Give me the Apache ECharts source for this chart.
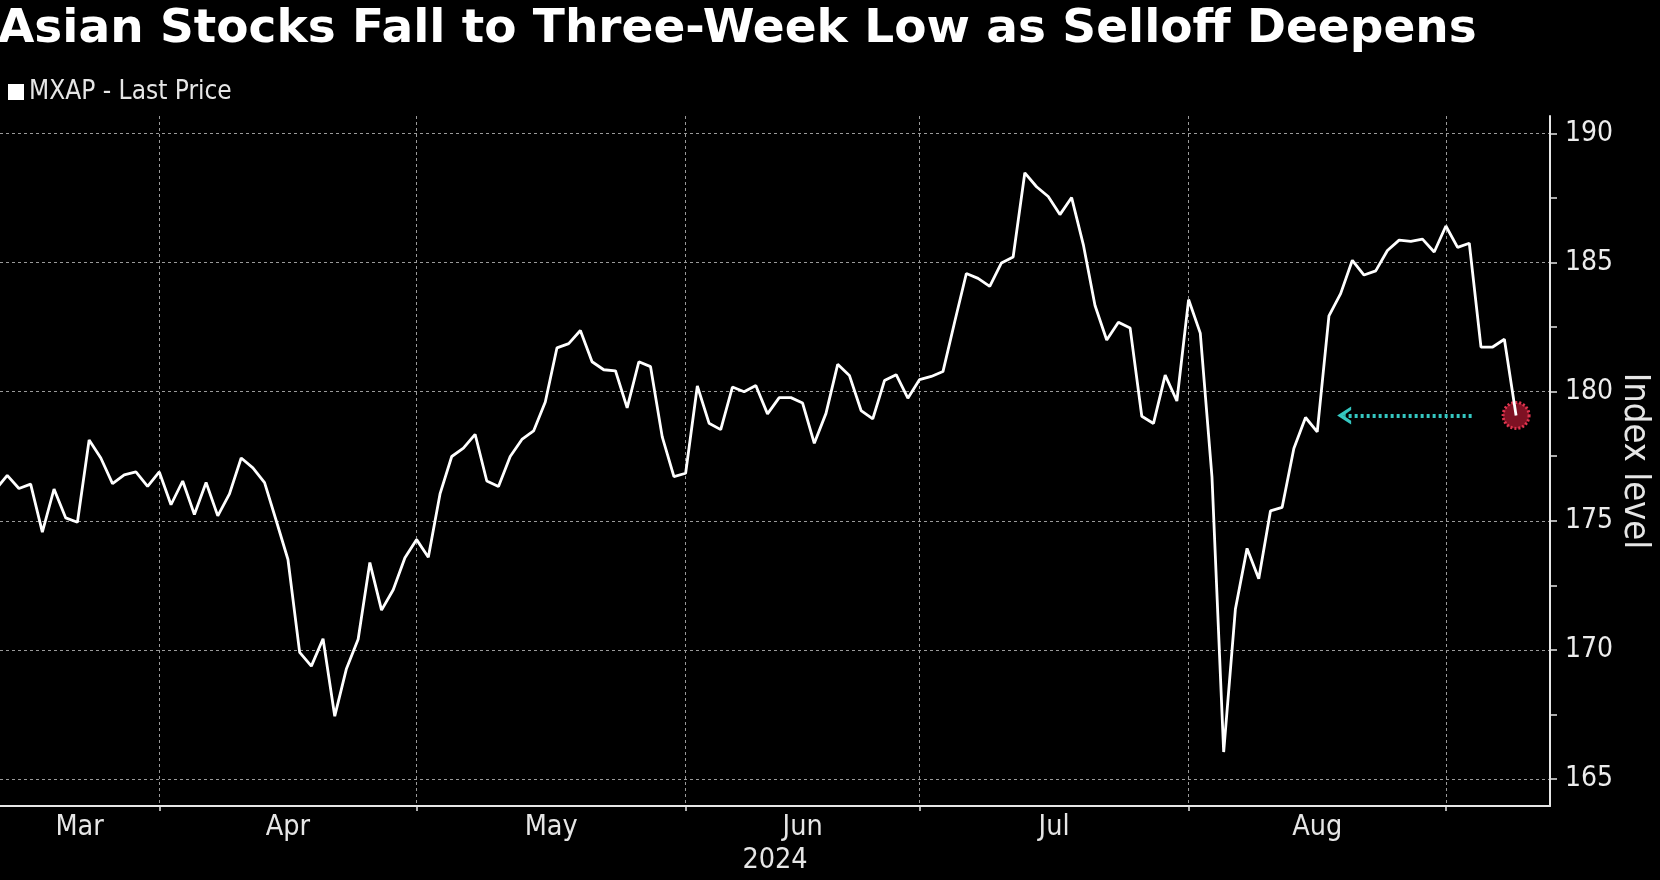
<!DOCTYPE html>
<html><head><meta charset="utf-8">
<script src="https://cdn.jsdelivr.net/npm/echarts@6/dist/echarts.min.js"></script>
<style>html,body{margin:0;padding:0;background:#000;}#c{width:1660px;height:880px;}</style>
</head><body><div id="c"></div>
<script>
const titleText = 'Asian Stocks Fall to Three-Week Low as Selloff Deepens';
const seriesName = 'MXAP - Last Price';
const yAxisName = 'Index level';
const yearLabel = '2024';
const startDate = [2024, 2, 11]; // first trading weekday shown (Mar 11, 2024)
const monthNames = ['Jan','Feb','Mar','Apr','May','Jun','Jul','Aug','Sep','Oct','Nov','Dec'];
const yTickLabels = [165, 170, 175, 180, 185, 190];
const yTicks = [165, 167.5, 170, 172.5, 175, 177.5, 180, 182.5, 185, 187.5, 190];
const values = [
  176.2, 176.76, 176.25, 176.42, 174.56, 176.23, 175.11, 174.94, 178.13, 177.43,
  176.44, 176.78, 176.89, 176.33, 176.89, 175.62, 176.54, 175.24, 176.48, 175.19,
  176.04, 177.43, 177.05, 176.48, 175.0, 173.5, 169.9, 169.37, 170.43, 167.43,
  169.27, 170.41, 173.38, 171.54, 172.33, 173.57, 174.27, 173.59, 176.04, 177.49,
  177.81, 178.35, 176.54, 176.33, 177.49, 178.15, 178.48, 179.6, 181.7, 181.86,
  182.37, 181.16, 180.85, 180.81, 179.37, 181.16, 180.97, 178.25, 176.71, 176.84,
  180.22, 178.78, 178.53, 180.18, 180.0, 180.24, 179.14, 179.77, 179.77, 179.56,
  178.0, 179.16, 181.06, 180.63, 179.27, 178.95, 180.43, 180.66, 179.75, 180.47,
  180.59, 180.78, 182.7, 184.58, 184.39, 184.08, 184.99, 185.22, 188.48, 187.94,
  187.56, 186.86, 187.52, 185.7, 183.34, 182.0, 182.69, 182.47, 179.05, 178.77,
  180.64, 179.64, 183.57, 182.27, 176.7, 166.04, 171.57, 173.93, 172.75, 175.38,
  175.52, 177.8, 179.0, 178.44, 182.94, 183.8, 185.09, 184.52, 184.68, 185.47,
  185.87, 185.82, 185.91, 185.41, 186.42, 185.59, 185.75, 181.73, 181.73, 182.03,
  179.08
];

// weekday dates for each value
const dates = [];
(function () {
  const d = new Date(startDate[0], startDate[1], startDate[2]);
  while (dates.length < values.length) {
    const wd = d.getDay();
    if (wd !== 0 && wd !== 6) dates.push(new Date(d));
    d.setDate(d.getDate() + 1);
  }
})();

const xMin = 0.38, xMax = 132.9;
const yMin = 163.95, yMax = 190.68;

// month boundaries: last weekday of each month
const boundaries = [];
for (let i = 0; i < dates.length - 1; i++) {
  if (dates[i].getMonth() !== dates[i + 1].getMonth()) boundaries.push(i);
}
const edges = [xMin].concat(boundaries);
const labelPos = [];
for (let i = 0; i < edges.length - 1; i++) labelPos.push((edges[i] + edges[i + 1]) / 2);

const lastIdx = values.length - 1;
const lastVal = values[lastIdx];
const FONT = 'DejaVu Sans Condensed, DejaVu Sans, sans-serif';
const NARROW = 'Liberation Sans Narrow, DejaVu Sans Condensed, sans-serif';

const chart = echarts.init(document.getElementById('c'), null, {renderer: 'canvas'});
chart.setOption({
  backgroundColor: '#000000',
  animation: false,
  title: {
    text: titleText, left: -2, top: 6, padding: 0,
    textStyle: {color: '#ffffff', fontSize: 47, fontWeight: 'bold', fontFamily: 'DejaVu Sans, sans-serif'}
  },
  legend: {
    left: 8, top: 79, padding: 0, itemWidth: 16, itemHeight: 16, icon: 'rect',
    textStyle: {color: '#e6e6e6', fontSize: 26, fontFamily: NARROW},
    data: [seriesName]
  },
  grid: {left: 0, right: 110, top: 116, bottom: 59, containLabel: false},
  xAxis: {
    type: 'value', min: xMin, max: xMax,
    name: yearLabel, nameLocation: 'middle', nameGap: 40, nameMoveOverlap: false,
    nameTextStyle: {color: '#e6e6e6', fontSize: 28.5, fontFamily: FONT},
    axisLine: {show: true, onZero: false, lineStyle: {color: '#e6e6e6', width: 2}},
    axisTick: {show: true, customValues: boundaries, length: 5, lineStyle: {color: '#e6e6e6', width: 1.5}},
    axisLabel: {
      customValues: labelPos, color: '#e6e6e6', fontSize: 28.5, fontFamily: FONT, margin: 7,
      formatter: v => monthNames[dates[Math.round(v)].getMonth()]
    },
    splitLine: {show: true, lineStyle: {color: '#9a9a9a', width: 1, type: [3, 3]}}
  },
  yAxis: [{
    type: 'value', position: 'right', min: yMin, max: yMax,
    name: yAxisName, nameLocation: 'middle', nameRotate: -90, nameGap: 66, nameMoveOverlap: false,
    nameTextStyle: {color: '#e6e6e6', fontSize: 36, fontFamily: FONT},
    axisLine: {show: true, lineStyle: {color: '#e6e6e6', width: 2}},
    axisTick: {show: true, inside: false, customValues: yTicks, length: 7, lineStyle: {color: '#e6e6e6', width: 1.5}},
    axisLabel: {customValues: yTickLabels, color: '#ececec', fontSize: 28, fontFamily: FONT, margin: 15},
    splitLine: {show: false}
  }, {
    type: 'value', position: 'right', min: yMin, max: yMax,
    axisLine: {show: false}, axisLabel: {show: false},
    axisTick: {show: false, customValues: yTickLabels},
    splitLine: {show: true, lineStyle: {color: '#9a9a9a', width: 1, type: [3, 3]}}
  }],
  series: [{
    name: seriesName, type: 'line', yAxisIndex: 0,
    data: values.map((v, i) => [i, v]),
    showSymbol: false, symbol: 'none',
    lineStyle: {color: '#ffffff', width: 2.8},
    itemStyle: {color: '#ffffff'},
    z: 3,
    markPoint: {
      z: 2, silent: true,
      symbol: 'circle', symbolSize: 26,
      itemStyle: {color: '#7e1123', borderColor: '#e0354f', borderWidth: 3, borderType: [2, 2]},
      label: {show: false},
      data: [{coord: [lastIdx, lastVal]}]
    },
    markLine: {
      silent: true, z: 2,
      symbol: ['none', 'path://M10,0 L20,11 L16,11 L10,5 L4,11 L0,11 Z'],
      symbolSize: [18, 14],
      lineStyle: {color: '#35c7c1', width: 4, type: [3, 3]},
      label: {show: false},
      data: [[{coord: [lastIdx - 3.8, lastVal]}, {coord: [lastIdx - 14.7, lastVal]}]]
    }
  }]
});
</script>
</body></html>
